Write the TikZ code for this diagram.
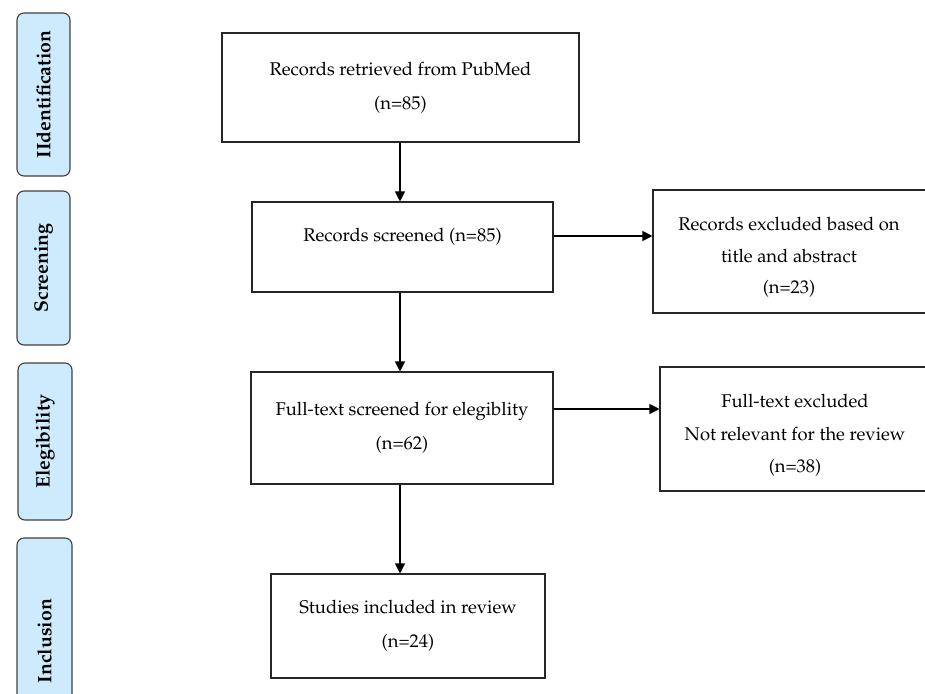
\documentclass[tikz,border=0pt]{standalone}
\usepackage[T1]{fontenc}
\usepackage{mathpazo}
\usetikzlibrary{arrows.meta,calc}
\definecolor{phasefill}{HTML}{CDEBFC}
\definecolor{phaseline}{HTML}{404040}
\tikzset{
  flowbox/.style={draw=black!85, line width=1.1pt, align=center, inner sep=0pt,
    font=\fontsize{18.4}{34}\selectfont},
  flowtext/.style={align=center, inner sep=0pt},
  phasebox/.style={draw=phaseline, fill=phasefill, line width=1.1pt, rounded corners=7pt},
  phasetext/.style={rotate=90, font=\fontsize{19.5}{21}\selectfont\bfseries},
  arr/.style={line width=1.1pt, -{Triangle[length=10pt,width=10pt]}}
}
\begin{document}
\begin{tikzpicture}[x=1pt,y=-1pt]
\useasboundingbox (0,0) rectangle (925,693);
\clip (0,0) rectangle (925,693);
% phase labels
\draw[phasebox] (17,13) rectangle (70,176);
\node[phasetext] (pid) at (43.5,94.5) {IIdentification};
\draw[phasebox] (17,191) rectangle (70,345);
\node[phasetext] (psc) at (43.5,268) {Screening};
\draw[phasebox] (18,363) rectangle (72,520);
\node[phasetext] (pel) at (45,441.5) {Elegibility};
\draw[phasebox] (17,538) rectangle (72,748);
\node[phasetext] (pin) at (44.5,641) {Inclusion};
% main boxes
\node[flowbox, minimum width=357pt, minimum height=109pt] (b1) at (400.5,87.5)
  {Records retrieved from PubMed\\(n=85)};
\node[flowbox, minimum width=301pt, minimum height=90pt] (b2) at (402.5,247)
  {\raisebox{6pt}[0pt][0pt]{Records screened (n=85)}};
\node[flowbox, minimum width=302pt, minimum height=112pt] (b3) at (402,428)
  {Full-text screened for elegiblity\\(n=62)};
\node[flowbox, minimum width=274pt, minimum height=104pt] (b4) at (408,626)
  {Studies included in review\\(n=24)};
% side boxes
\node[flowbox, minimum width=275pt, minimum height=123pt] (r1) at (790.5,251.5) {};
\node[flowtext, font=\fontsize{18.4}{31.5}\selectfont] (r1t) at (789,257.5)
  {Records excluded based on\\title and abstract\\(n=23)};
\node[flowbox, minimum width=268pt, minimum height=124pt] (r2) at (794,429) {};
\node[flowtext, font=\fontsize{18.4}{32.5}\selectfont] (r2t) at (795,435.5)
  {Full-text excluded\\Not relevant for the review\\(n=38)};
% connectors
\coordinate (cx) at (400,0);
\draw[arr] (b1.south -| cx) -- (b2.north -| cx);
\draw[arr] (b2.south -| cx) -- (b3.north -| cx);
\draw[arr] (b3.south -| cx) -- (b4.north -| cx);
\draw[arr] ([yshift=11pt]b2.east) -- ([yshift=11pt]b2.east -| r1.west);
\draw[arr] ([yshift=19pt]b3.east) -- ([yshift=19pt]b3.east -| r2.west);
\end{tikzpicture}
\end{document}
